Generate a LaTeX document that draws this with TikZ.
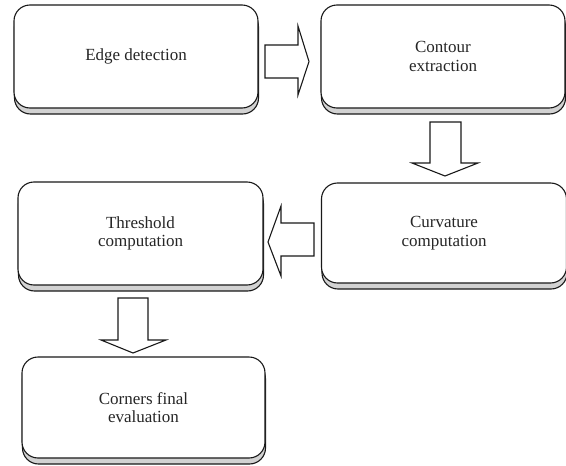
\documentclass[tikz,border=0pt]{standalone}
\usepackage{fontspec}
\setmainfont{Liberation Serif}
\usetikzlibrary{shadows}
\begin{document}
\begin{tikzpicture}[x=1pt,y=-1pt,
  stepbox/.style={draw=black!90, line width=1.1pt, fill=white, rounded corners=16pt,
    align=center, font=\fontsize{17}{18.5}\selectfont, text=black!85,
    general shadow={shadow xshift=0.5pt, shadow yshift=-6pt, fill=gray!35, draw=black!90, line width=1.1pt}},
  blockarrow/.style={draw=black!90, line width=1.1pt, fill=white, line join=miter}]
\useasboundingbox (0,0) rectangle (566,466);
\node[stepbox, minimum width=244pt, minimum height=103pt] (e) at (136,56.5) {Edge detection};
\node[stepbox, minimum width=244pt, minimum height=103pt] (c) at (443,56.5) {Contour\\extraction};
\node[stepbox, minimum width=245pt, minimum height=103pt] (t) at (140.5,233.5) {Threshold\\computation};
\node[stepbox, minimum width=245pt, minimum height=100pt] (k) at (444,233) {Curvature\\computation};
\node[stepbox, minimum width=243pt, minimum height=101pt] (f) at (143.5,407.5) {Corners final\\evaluation};
% e -> c
\draw[blockarrow] (265,45) -- (298,45) -- (298,26) -- (309,61.5) -- (298,95) -- (298,78) -- (265,78) -- cycle;
% c -> k
\draw[blockarrow] (430,122) -- (461,122) -- (461,163) -- (478,163) -- (445,176) -- (412,163) -- (430,163) -- cycle;
% k -> t
\draw[blockarrow] (314,223) -- (281,223) -- (281,206) -- (268,242) -- (281,276) -- (281,256) -- (314,256) -- cycle;
% t -> f
\draw[blockarrow] (118,298) -- (148,298) -- (148,340) -- (166,340) -- (133,353) -- (101,340) -- (118,340) -- cycle;
\end{tikzpicture}
\end{document}
